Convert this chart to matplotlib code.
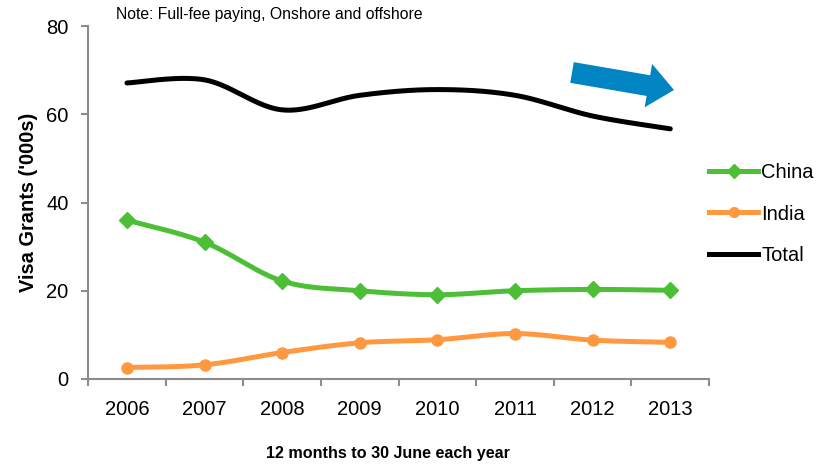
import numpy as np
import matplotlib
matplotlib.use("Agg")
import matplotlib.pyplot as plt
from matplotlib.patches import FancyArrow

plt.rcParams['font.family'] = ['Liberation Sans', 'DejaVu Sans']

years = ['2006', '2007', '2008', '2009', '2010', '2011', '2012', '2013']
china = [36.0, 31.0, 22.2, 20.0, 19.1, 20.0, 20.3, 20.1]
india = [2.6, 3.2, 6.0, 8.2, 8.9, 10.3, 8.8, 8.3]
total = [67.1, 67.8, 61.0, 64.3, 65.6, 64.3, 59.6, 56.7]

GREEN = '#4cbf37'
ORANGE = '#ff983f'
GREY = '#8c8c8c'


def smooth(xs, ys, n=40):
    # bezier smoothing between points, control points at 1/6 of neighbour diff
    xs = np.asarray(xs, float)
    ys = np.asarray(ys, float)
    px = np.concatenate([[xs[0]], xs, [xs[-1]]])
    py = np.concatenate([[ys[0]], ys, [ys[-1]]])
    outx, outy = [], []
    t = np.linspace(0, 1, n)
    for i in range(1, len(px) - 2):
        p0x, p1x, p2x, p3x = px[i - 1], px[i], px[i + 1], px[i + 2]
        p0y, p1y, p2y, p3y = py[i - 1], py[i], py[i + 1], py[i + 2]
        c1x = p1x + (p2x - p0x) / 6
        c1y = p1y + (p2y - p0y) / 6
        c2x = p2x - (p3x - p1x) / 6
        c2y = p2y - (p3y - p1y) / 6
        bx = (1 - t)**3 * p1x + 3 * (1 - t)**2 * t * c1x + 3 * (1 - t) * t**2 * c2x + t**3 * p2x
        by = (1 - t)**3 * p1y + 3 * (1 - t)**2 * t * c1y + 3 * (1 - t) * t**2 * c2y + t**3 * p2y
        outx.extend(bx)
        outy.extend(by)
    return np.array(outx), np.array(outy)


fig = plt.figure(figsize=(8.16, 4.65), dpi=100)
ax = fig.add_axes([0.108, 0.185, 0.761, 0.759])

x = np.arange(len(years))

sx, sy = smooth(x, china)
ax.plot(sx, sy, color=GREEN, lw=3.6, solid_capstyle='round', zorder=3)
ax.plot(x, china, ls='none', marker='D', ms=8, color=GREEN, zorder=4)
sx, sy = smooth(x, india)
ax.plot(sx, sy, color=ORANGE, lw=3.6, solid_capstyle='round', zorder=3)
ax.plot(x, india, ls='none', marker='o', ms=8, color=ORANGE, zorder=4)
sx, sy = smooth(x, total)
ax.plot(sx, sy, color='black', lw=3.6, solid_capstyle='round', zorder=3)

# legend handles
h_china, = ax.plot([], [], color=GREEN, lw=3.6, marker='D', ms=7)
h_india, = ax.plot([], [], color=ORANGE, lw=3.6, marker='o', ms=7)
h_total, = ax.plot([], [], color='black', lw=3.6)

ax.set_xlim(-0.5, 7.5)
ax.set_ylim(0, 80)
ax.set_yticks([0, 20, 40, 60, 80])
ax.set_xticks(x)
ax.set_xticklabels(years)
ax.set_xticks(np.arange(-0.5, 8, 1), minor=True)
ax.tick_params(axis='x', which='major', length=0, pad=15, labelsize=14.5)
ax.tick_params(axis='x', which='minor', length=5, width=1.5, color=GREY)
ax.tick_params(axis='y', length=5, width=1.5, color=GREY, labelsize=14.5, pad=9)
for s in ['top', 'right']:
    ax.spines[s].set_visible(False)
for s in ['left', 'bottom']:
    ax.spines[s].set_color(GREY)
    ax.spines[s].set_linewidth(1.5)

ax.set_ylabel("Visa Grants ('000s)", fontsize=14.4, fontweight='bold')
ax.yaxis.set_label_coords(-0.081, 0.5)
fig.text(0.476, 0.024, '12 months to 30 June each year', fontsize=11.6,
         fontweight='bold', ha='center', va='center')
fig.text(0.142, 0.968, 'Note: Full-fee paying, Onshore and offshore', fontsize=11.3,
         ha='left', va='center')

fig.legend([h_china, h_india, h_total], ['China', 'India', 'Total'],
           loc='center left', bbox_to_anchor=(709 / 816, 1 - 214 / 465),
           frameon=False, fontsize=14.5, borderpad=0, borderaxespad=0,
           handlelength=2.45, handletextpad=0.15, labelspacing=1.1)

# trend arrow, placed in inches from the figure's bottom-left corner
arr = FancyArrow(5.72, 3.925, 1.02, -0.175, width=0.21, head_width=0.44,
                 head_length=0.26, length_includes_head=True,
                 transform=fig.dpi_scale_trans, color='#0084c2', lw=0)
fig.patches.append(arr)

fig.savefig('out.png', dpi=100)
